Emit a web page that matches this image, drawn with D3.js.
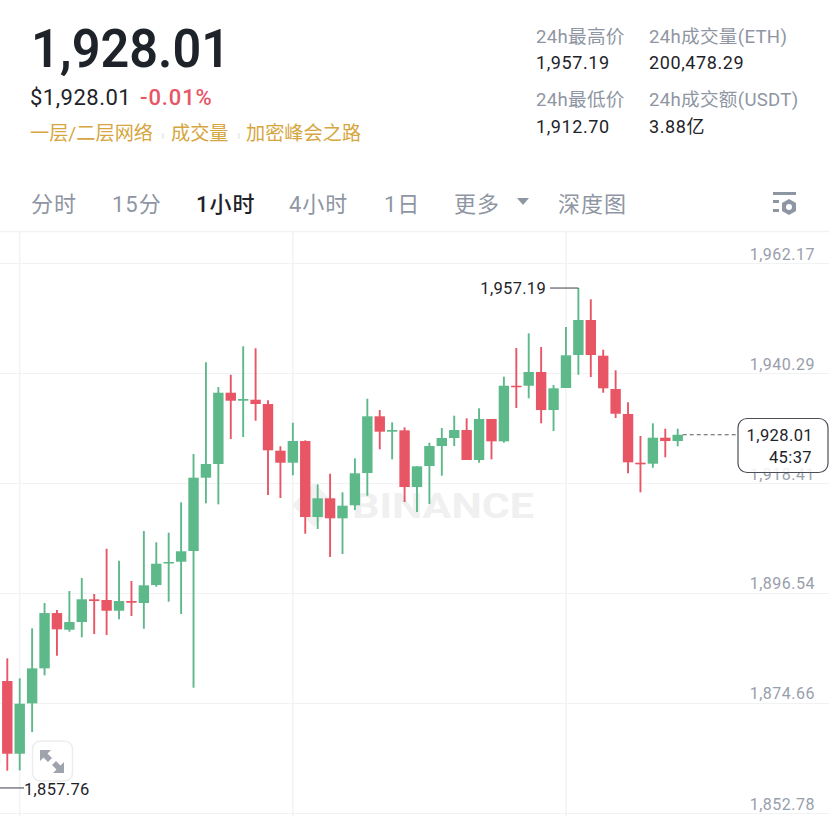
<!DOCTYPE html>
<html><head><meta charset="utf-8">
<script src="https://cdn.jsdelivr.net/npm/d3@7"></script>
<style>html,body{margin:0;padding:0;background:#fff;overflow:hidden}svg{display:block}
text{font-family:Roboto,"Noto Sans CJK SC",sans-serif}</style></head><body>
<script>
const opens=[1862.32,1879.03,1864.57,1874.59,1881.55,1892.55,1889.23,1890.76,1895.28,1895.14,1893.01,1894.94,1894.54,1898.12,1902.44,1902.76,1904.89,1919.47,1922.19,1936.37,1934.78,1934.98,1934.12,1924.84,1922.45,1926.76,1911.65,1915.37,1911.39,1913.98,1920.40,1931.68,1928.62,1928.89,1917.61,1921.79,1925.77,1927.36,1928.95,1922.99,1931.14,1926.70,1937.76,1937.76,1940.49,1932.93,1937.31,1943.87,1950.83,1943.73,1937.11,1932.14,1922.45,1922.25,1927.42,1926.76];
const highs=[1866.00,1883.54,1879.57,1889.51,1894.54,1893.15,1896.93,1899.52,1896.33,1905.34,1902.96,1898.92,1908.86,1906.62,1908.53,1914.57,1924.18,1942.42,1937.51,1939.95,1945.60,1945.20,1934.86,1925.71,1930.40,1926.90,1918.15,1920.26,1916.56,1923.32,1935.18,1932.93,1930.48,1929.49,1921.73,1926.43,1929.35,1931.80,1931.28,1933.27,1931.14,1939.55,1945.26,1948.19,1945.46,1937.90,1949.44,1957.19,1954.95,1944.92,1940.83,1934.46,1927.76,1930.29,1929.21,1929.21];
const lows=[1857.76,1861.19,1861.27,1868.88,1880.16,1884.06,1888.83,1887.72,1888.38,1888.18,1891.30,1891.96,1889.43,1897.78,1894.80,1892.35,1877.70,1914.37,1914.17,1927.16,1927.56,1930.80,1916.02,1915.43,1919.94,1908.33,1909.26,1903.69,1904.29,1913.04,1915.88,1925.11,1923.12,1914.63,1912.64,1914.23,1919.86,1925.77,1922.99,1922.45,1923.12,1926.43,1933.33,1935.26,1930.29,1928.75,1937.31,1939.95,1939.49,1936.37,1931.34,1920.34,1916.56,1921.45,1923.52,1925.71];
const closes=[1864.57,1864.57,1874.51,1881.55,1892.55,1889.31,1890.76,1895.28,1894.94,1893.01,1894.94,1894.60,1898.06,1902.36,1902.70,1904.83,1919.47,1922.19,1936.37,1934.78,1935.12,1934.12,1924.92,1922.45,1926.76,1911.65,1915.37,1911.39,1913.90,1920.34,1931.68,1928.62,1928.95,1917.61,1921.73,1925.77,1927.36,1928.95,1922.99,1931.14,1926.70,1937.76,1937.45,1940.49,1932.93,1937.25,1943.81,1950.83,1943.87,1937.25,1932.19,1922.53,1922.13,1927.42,1926.76,1928.01];
const priceTicks=[1962.17,1940.29,1918.41,1896.54,1874.66,1852.78];
const timeGridIndex=[2,24,46];
const red="#E85565",green="#5DB98A",ink="#1E2329",gray="#8F96A3",gold="#D6A640",gridC="#F1F2F3";
const W=829,H=816;
const headerStats=[["24h最高价","1,957.19",536,36,61],["24h成交量(ETH)","200,478.29",649,36,61],["24h最低价","1,912.70",536,99,125],["24h成交额(USDT)","3.88亿",649,99,125]];
const tabs=[["分时",31,0],["15分",112,0],["1小时",196,1],["4小时",289,0],["1日",384,0],["更多",454,0],["深度图",558,0]];
const topics=[["一层/二层网络",30],["成交量",171],["加密峰会之路",246]];

const svg=d3.select("body").append("svg").attr("width",W).attr("height",H).attr("viewBox",`0 0 ${W} ${H}`);
const y=d3.scaleLinear().domain([1852.78,1962.17]).range([813,263]);
const x=d3.scaleLinear().domain([1,55]).range([7.3,677.7]);
const idx=d3.range(opens.length);
const bodyW=10.4;

const T=(s,xp,yp,size,fill,opt={})=>{const t=svg.append("text").attr("x",xp).attr("y",yp).attr("font-size",size).attr("fill",fill)
  .attr("font-weight",opt.w||400).attr("text-anchor",opt.a||"start").style("letter-spacing",opt.ls||"0").text(s);
  if(opt.len)t.attr("textLength",opt.len).attr("lengthAdjust","spacingAndGlyphs");return t;};
T("1,928.01",31,67,54,ink,{w:600,len:199});
T("$1,928.01",30,105,22,ink,{ls:"0.5px"});
T("-0.01%",140,105,22,red,{w:500,ls:"0.9px"});
topics.forEach(t=>T(t[0],t[1],140,19.2,gold));
[[162,134],[238,134]].forEach(p=>svg.append("rect").attr("x",p[0]).attr("y",p[1]-1).attr("width",1.5).attr("height",6).attr("fill","#E6E8EA"));
headerStats.forEach(s=>{T(s[0],s[2],s[3]+7,18.6,gray,{ls:"0.3px"});T(s[1],s[2],s[4]+8,18,ink,{ls:"0.6px"});});
tabs.forEach(t=>T(t[0],t[1],212,22,t[2]?ink:gray,{w:t[2]?500:400,ls:"1px"}));
svg.append("path").attr("d","M517 198h12l-6 7z").attr("fill",gray);
svg.append("rect").attr("x",773).attr("y",192).attr("width",23).attr("height",3).attr("fill",gray);
svg.append("rect").attr("x",773).attr("y",200).attr("width",6).attr("height",3).attr("fill",gray);
svg.append("rect").attr("x",773).attr("y",209).attr("width",6).attr("height",3).attr("fill",gray);
svg.append("path").attr("d","M789 199l7 4v8l-7 4-7-4v-8z").attr("fill",gray);
svg.append("circle").attr("cx",789).attr("cy",207).attr("r",3).attr("fill","#fff");

svg.append("line").attr("x1",0).attr("x2",W).attr("y1",231.5).attr("y2",231.5).attr("stroke",gridC).attr("stroke-width",1.5);
const axis=d3.axisRight(y).tickValues(priceTicks).tickSize(W).tickFormat(d3.format(",.2f"));
const ga=svg.append("g").call(axis);
ga.select(".domain").remove();
ga.selectAll("line").attr("stroke",gridC).attr("stroke-width",1.2);
ga.selectAll("text").attr("x",815).attr("dy",-4).attr("text-anchor","end").attr("font-size",16).attr("fill","#989EAB").style("letter-spacing","0.5px").style("font-family","Roboto");
svg.append("g").selectAll("line").data(timeGridIndex).join("line")
 .attr("x1",d=>x(d)).attr("x2",d=>x(d)).attr("y1",232).attr("y2",H).attr("stroke",gridC).attr("stroke-width",1.4);

const wm=svg.append("g");
wm.append("path").attr("d","M314 483l22 22-22 22-22-22z").attr("fill","#F1F1F2");
wm.append("text").attr("x",352).attr("y",518).attr("font-size",35).attr("font-weight",700).attr("fill","#F0F0F1").attr("textLength",182).attr("lengthAdjust","spacingAndGlyphs").text("BINANCE");

const col=i=>closes[i]>=opens[i]?green:red;
svg.append("g").selectAll("line").data(idx).join("line")
 .attr("x1",i=>x(i)).attr("x2",i=>x(i)).attr("y1",i=>y(highs[i])).attr("y2",i=>y(lows[i])).attr("stroke",col).attr("stroke-width",1.9);
svg.append("g").selectAll("rect").data(idx).join("rect")
 .attr("x",i=>x(i)-bodyW/2).attr("width",bodyW)
 .attr("y",i=>y(Math.max(opens[i],closes[i])))
 .attr("height",i=>Math.max(1.5,Math.abs(y(opens[i])-y(closes[i])))).attr("fill",col);

const hiI=d3.maxIndex(highs),loI=d3.minIndex(lows);
svg.append("path").attr("fill","none").attr("stroke","#3A3F47").attr("stroke-width",1)
 .attr("d",`M550 ${y(highs[hiI])}H${x(hiI)}`);
T("1,957.19",546,294,16.5,ink,{a:"end",ls:"0.3px"});
svg.append("line").attr("x1",0).attr("x2",24).attr("y1",y(lows[loI])).attr("y2",y(lows[loI])).attr("stroke","#3A3F47");
T("1,857.76",24,795,16.5,ink,{ls:"0.3px"});

const lastI=closes.length-1;
svg.append("line").attr("x1",x(lastI)+5).attr("x2",738).attr("y1",y(closes[lastI])).attr("y2",y(closes[lastI])).attr("stroke","#555B65").attr("stroke-dasharray","4 3").attr("stroke-width",1);
svg.append("rect").attr("x",738).attr("y",418.5).attr("width",90).attr("height",54).attr("rx",9).attr("fill","rgba(255,255,255,0.85)").attr("stroke","#4A4F57").attr("stroke-width",1.2);
T("1,928.01",813,441,16.5,ink,{a:"end",ls:"0.4px"});
T("45:37",812,463,16.5,ink,{a:"end",ls:"0.4px"});

svg.append("rect").attr("x",32.5).attr("y",741).attr("width",40).attr("height",40).attr("rx",8).attr("fill","#fff").attr("stroke","#ECEDEF").attr("stroke-width",1.5);
const arrow=svg.append("g").attr("fill","#9EA3AD");
arrow.append("path").attr("d","M40 750h11l-3.5 3.5 4.5 4.5-4 4-4.5-4.5-3.5 3.5z");
arrow.append("path").attr("d","M64 773h-11l3.5-3.5-4.5-4.5 4-4 4.5 4.5 3.5-3.5z");
</script></body></html>
